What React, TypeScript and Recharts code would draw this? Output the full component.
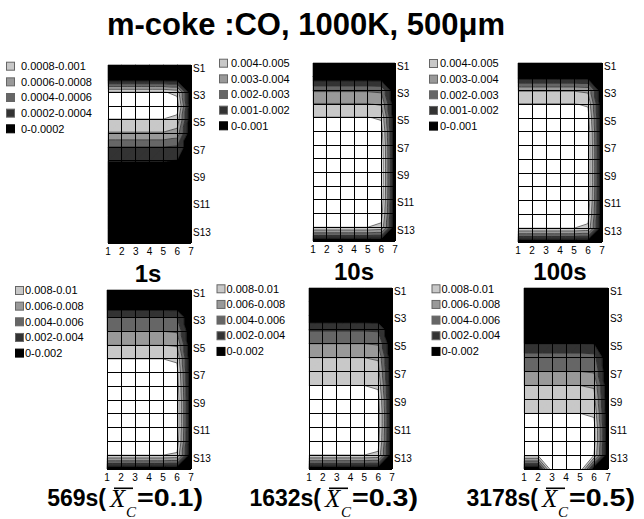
import React from 'react';
import { ScatterChart, Scatter, XAxis, YAxis } from 'recharts';

const columns = [1, 2, 3, 4, 5, 6, 7];
const seriesTicks = [1, 3, 5, 7, 9, 11, 13];

const levels1s = [0, 0.0002, 0.0004, 0.0006, 0.0008, 0.001];
const levels10s = [0, 0.001, 0.002, 0.003, 0.004, 0.005];
const levelsLong = [0, 0.002, 0.004, 0.006, 0.008, 0.01];

// CO concentration, rows S1..S14, columns 1..7
const conc1s = [
  [0, 0, 0, 0, 0, 0, 0],
  [0.00004, 0.00004, 0.00004, 0.00004, 0.00004, 0.00004, 0],
  [0.00102, 0.00102, 0.00102, 0.00102, 0.00102, 0.00095, 0],
  [0.0012, 0.0012, 0.0012, 0.0012, 0.0012, 0.00112, 0],
  [0.00099, 0.00099, 0.00099, 0.00099, 0.00099, 0.00093, 0],
  [0.00078, 0.00078, 0.00078, 0.00078, 0.00078, 0.00072, 0],
  [0.000396, 0.000396, 0.000396, 0.000396, 0.000396, 0.00037, 0],
  [0.000204, 0.000204, 0.000204, 0.000204, 0.000204, 0.00019, 0],
  [0.00003, 0.00003, 0.00003, 0.00003, 0.00003, 0.00003, 0],
  [0.00001, 0.00001, 0.00001, 0.00001, 0.00001, 0.00001, 0],
  [0, 0, 0, 0, 0, 0, 0],
  [0, 0, 0, 0, 0, 0, 0],
  [0, 0, 0, 0, 0, 0, 0],
  [0, 0, 0, 0, 0, 0, 0],
];

const conc10s = [
  [0, 0, 0, 0, 0, 0, 0],
  [0.00015, 0.00015, 0.00015, 0.00015, 0.00015, 0.00014, 0],
  [0.0029, 0.0029, 0.0029, 0.0029, 0.0029, 0.0028, 0],
  [0.00405, 0.00405, 0.00405, 0.00405, 0.00405, 0.0039, 0],
  [0.00505, 0.00505, 0.00505, 0.00505, 0.00505, 0.0049, 0],
  [0.0056, 0.0056, 0.0056, 0.0056, 0.0056, 0.0054, 0],
  [0.0059, 0.0059, 0.0059, 0.0059, 0.0059, 0.0057, 0],
  [0.006, 0.006, 0.006, 0.006, 0.006, 0.0058, 0],
  [0.006, 0.006, 0.006, 0.006, 0.006, 0.0058, 0],
  [0.006, 0.006, 0.006, 0.006, 0.006, 0.0058, 0],
  [0.0059, 0.0059, 0.0059, 0.0059, 0.0059, 0.0057, 0],
  [0.0056, 0.0056, 0.0056, 0.0056, 0.0056, 0.0054, 0],
  [0.005, 0.005, 0.005, 0.005, 0.005, 0.0048, 0],
  [0, 0, 0, 0, 0, 0, 0],
];

const conc100s = [
  [0, 0, 0, 0, 0, 0, 0],
  [0.0003, 0.0003, 0.0003, 0.0003, 0.0003, 0.00029, 0],
  [0.00395, 0.00395, 0.00395, 0.00395, 0.00395, 0.0038, 0],
  [0.00505, 0.00505, 0.00505, 0.00505, 0.00505, 0.0049, 0],
  [0.0056, 0.0056, 0.0056, 0.0056, 0.0056, 0.0054, 0],
  [0.0059, 0.0059, 0.0059, 0.0059, 0.0059, 0.0057, 0],
  [0.006, 0.006, 0.006, 0.006, 0.006, 0.0058, 0],
  [0.006, 0.006, 0.006, 0.006, 0.006, 0.0058, 0],
  [0.006, 0.006, 0.006, 0.006, 0.006, 0.0058, 0],
  [0.006, 0.006, 0.006, 0.006, 0.006, 0.0058, 0],
  [0.0059, 0.0059, 0.0059, 0.0059, 0.0059, 0.0057, 0],
  [0.0056, 0.0056, 0.0056, 0.0056, 0.0056, 0.0054, 0],
  [0.005, 0.005, 0.005, 0.005, 0.005, 0.0048, 0],
  [0, 0, 0, 0, 0, 0, 0],
];

const conc569s = [
  [0, 0, 0, 0, 0, 0, 0],
  [0, 0, 0, 0, 0, 0, 0],
  [0.0041, 0.0041, 0.0041, 0.0041, 0.0041, 0.004, 0],
  [0.006, 0.006, 0.006, 0.006, 0.006, 0.0058, 0],
  [0.008, 0.008, 0.008, 0.008, 0.008, 0.0078, 0],
  [0.01, 0.01, 0.01, 0.01, 0.01, 0.0097, 0],
  [0.011, 0.011, 0.011, 0.011, 0.011, 0.0107, 0],
  [0.0116, 0.0116, 0.0116, 0.0116, 0.0116, 0.0112, 0],
  [0.012, 0.012, 0.012, 0.012, 0.012, 0.0116, 0],
  [0.012, 0.012, 0.012, 0.012, 0.012, 0.0116, 0],
  [0.012, 0.012, 0.012, 0.012, 0.012, 0.0116, 0],
  [0.0116, 0.0116, 0.0116, 0.0116, 0.0116, 0.0112, 0],
  [0.01, 0.01, 0.01, 0.01, 0.01, 0.0097, 0],
  [0, 0, 0, 0, 0, 0, 0],
];

const conc1632s = [
  [0, 0, 0, 0, 0, 0, 0],
  [0, 0, 0, 0, 0, 0, 0],
  [0, 0, 0, 0, 0, 0, 0],
  [0.0038, 0.0038, 0.0038, 0.0038, 0.0038, 0.0037, 0],
  [0.006, 0.006, 0.006, 0.006, 0.006, 0.0058, 0],
  [0.008, 0.008, 0.008, 0.008, 0.008, 0.0078, 0],
  [0.009, 0.009, 0.009, 0.009, 0.009, 0.0087, 0],
  [0.01, 0.01, 0.01, 0.01, 0.01, 0.0097, 0],
  [0.011, 0.011, 0.011, 0.011, 0.011, 0.0107, 0],
  [0.0116, 0.0116, 0.0116, 0.0116, 0.0116, 0.0112, 0],
  [0.0116, 0.0116, 0.0116, 0.0116, 0.0116, 0.0112, 0],
  [0.0112, 0.0112, 0.0112, 0.0112, 0.0112, 0.0108, 0],
  [0.01, 0.01, 0.01, 0.01, 0.01, 0.0097, 0],
  [0, 0, 0, 0, 0, 0, 0],
];

const conc3178s = [
  [0, 0, 0, 0, 0, 0, 0],
  [0, 0, 0, 0, 0, 0, 0],
  [0, 0, 0, 0, 0, 0, 0],
  [0, 0, 0, 0, 0, 0, 0],
  [0.002, 0.002, 0.002, 0.002, 0.002, 0.0019, 0],
  [0.005, 0.005, 0.005, 0.005, 0.005, 0.0048, 0],
  [0.006, 0.006, 0.006, 0.006, 0.006, 0.0058, 0],
  [0.008, 0.008, 0.008, 0.008, 0.008, 0.0078, 0],
  [0.009, 0.009, 0.009, 0.009, 0.009, 0.0087, 0],
  [0.01, 0.01, 0.01, 0.01, 0.01, 0.0097, 0],
  [0.011, 0.011, 0.011, 0.011, 0.011, 0.0107, 0],
  [0.0112, 0.0112, 0.0112, 0.0112, 0.0112, 0.0108, 0],
  [0.0104, 0.0104, 0.0104, 0.0104, 0.0104, 0.01, 0],
  [0, 0, 0.012, 0.012, 0.012, 0, 0],
];

const topLabels = ['1s', '10s', '100s'];
const bottomTimes = ['569s', '1632s', '3178s'];
const bottomConversion = ['0.1', '0.3', '0.5'];

// band fills, lowest band first; anything above the top level stays white
const bandColors = ['#000000', '#333333', '#666666', '#999999', '#c8c8c8', '#ffffff'];

const PAD = 4;
const X_AXIS_H = 18;
const Y_AXIS_W = 28;
const SANS = '"Liberation Sans", Arial, sans-serif';
const SERIF = '"Liberation Serif", "Times New Roman", serif';

type Pt = [number, number, number];

function clipBy(poly: Pt[], level: number, above: boolean): Pt[] {
  const out: Pt[] = [];
  for (let i = 0; i < poly.length; i++) {
    const a = poly[i];
    const b = poly[(i + 1) % poly.length];
    const ina = above ? a[2] >= level : a[2] < level;
    const inb = above ? b[2] >= level : b[2] < level;
    if (ina) out.push(a);
    if (ina !== inb) {
      const t = (level - a[2]) / (b[2] - a[2]);
      out.push([a[0] + t * (b[0] - a[0]), a[1] + t * (b[1] - a[1]), level]);
    }
  }
  return out;
}

// split every cell into two triangles and cut them into the contour bands
function buildField(grid: number[][], levels: number[]) {
  const bounds = levels.slice(1);
  const fills: [number, number][][][] = bandColors.map(() => []);
  const iso: number[][] = [];
  for (let r = 0; r < grid.length - 1; r++) {
    for (let c = 0; c < columns.length - 1; c++) {
      const tl: Pt = [c + 1, r + 1, grid[r][c]];
      const tr: Pt = [c + 2, r + 1, grid[r][c + 1]];
      const bl: Pt = [c + 1, r + 2, grid[r + 1][c]];
      const br: Pt = [c + 2, r + 2, grid[r + 1][c + 1]];
      const corners = [tl, tr, br, bl];
      const mean = (tl[2] + tr[2] + bl[2] + br[2]) / 4;
      let odd = 0;
      corners.forEach((p, i) => {
        if (Math.abs(p[2] - mean) > Math.abs(corners[odd][2] - mean)) odd = i;
      });
      const tris: Pt[][] = odd === 0 || odd === 2
        ? [[tl, tr, bl], [tr, br, bl]]
        : [[tl, tr, br], [tl, br, bl]];
      for (const tri of tris) {
        for (let k = 0; k < bandColors.length; k++) {
          let poly = tri;
          if (k > 0) poly = clipBy(poly, bounds[k - 1], true);
          if (k < bounds.length && poly.length) poly = clipBy(poly, bounds[k], false);
          if (poly.length >= 3) fills[k].push(poly.map((p) => [p[0], p[1]] as [number, number]));
        }
        for (const lv of bounds) {
          const seg: number[] = [];
          for (let i = 0; i < 3; i++) {
            const a = tri[i];
            const b = tri[(i + 1) % 3];
            if ((a[2] >= lv) !== (b[2] >= lv)) {
              const t = (lv - a[2]) / (b[2] - a[2]);
              seg.push(a[0] + t * (b[0] - a[0]), a[1] + t * (b[1] - a[1]));
            }
          }
          if (seg.length === 4) iso.push(seg);
        }
      }
    }
  }
  return { fills, iso };
}

interface Panel {
  grid: number[][];
  levels: number[];
  plot: [number, number, number, number];
  legend: { box: number; text: number; y: number };
}

const panels: Panel[] = [
  { grid: conc1s, levels: levels1s, plot: [108, 65, 83, 178], legend: { box: 6, text: 21, y: 65.7 } },
  { grid: conc10s, levels: levels10s, plot: [313, 63, 82, 178], legend: { box: 219, text: 231, y: 62.7 } },
  { grid: conc100s, levels: levels10s, plot: [518, 63, 84, 179], legend: { box: 429, text: 440, y: 63 } },
  { grid: conc569s, levels: levelsLong, plot: [107, 290, 84, 179], legend: { box: 15, text: 25, y: 290 } },
  { grid: conc1632s, levels: levelsLong, plot: [309, 288, 83, 181], legend: { box: 216.5, text: 226.5, y: 288.3 } },
  { grid: conc3178s, levels: levelsLong, plot: [524, 288, 84, 181], legend: { box: 431.5, text: 441.5, y: 288.3 } },
];

const XTick = (p: any) => (
  <text x={p.x} y={p.y + 12} textAnchor="middle" fontSize={10} fontFamily={SANS} fill="#000">
    {p.payload.value}
  </text>
);

const YTick = (p: any) => (
  <text x={p.x + 2} y={p.y + 6.5} textAnchor="start" fontSize={10} fontFamily={SANS} fill="#000">
    {`S${p.payload.value}`}
  </text>
);

function FieldPanel({ panel }: { panel: Panel }) {
  const [left, top, w, h] = panel.plot;
  const nodes = React.useMemo(
    () => panel.grid.flatMap((row, r) => row.map((v, c) => ({ x: c + 1, y: r + 1, v }))),
    [panel],
  );
  const field = React.useMemo(() => buildField(panel.grid, panel.levels), [panel]);

  const drawField = (lineProps: any) => {
    const pts: { x: number; y: number }[] = lineProps.points || [];
    if (pts.length < nodes.length) return <g />;
    const colPx = columns.map((_, c) => pts[c].x);
    const rowPx = panel.grid.map((_, r) => pts[r * columns.length].y);
    const toX = (x: number) => {
      const i = Math.min(Math.max(Math.floor(x) - 1, 0), colPx.length - 2);
      return colPx[i] + (x - 1 - i) * (colPx[i + 1] - colPx[i]);
    };
    const toY = (y: number) => {
      const i = Math.min(Math.max(Math.floor(y) - 1, 0), rowPx.length - 2);
      return rowPx[i] + (y - 1 - i) * (rowPx[i + 1] - rowPx[i]);
    };
    const f = (n: number) => n.toFixed(2);
    const bandPaths = field.fills.map((polys) =>
      polys.map((poly) => 'M' + poly.map(([x, y]) => `${f(toX(x))},${f(toY(y))}`).join('L') + 'Z').join(''),
    );
    const isoPath = field.iso
      .map(([x1, y1, x2, y2]) => `M${f(toX(x1))},${f(toY(y1))}L${f(toX(x2))},${f(toY(y2))}`)
      .join('');
    const last = rowPx.length - 1;
    const gridPath =
      colPx.map((x) => `M${f(x)},${f(rowPx[0])}V${f(rowPx[last])}`).join('') +
      rowPx.map((y) => `M${f(colPx[0])},${f(y)}H${f(colPx[colPx.length - 1])}`).join('');
    return (
      <g>
        {bandPaths.map((d, k) =>
          d ? <path key={k} d={d} fill={bandColors[k]} stroke={bandColors[k]} strokeWidth={0.6} strokeLinejoin="round" /> : null,
        )}
        <path d={isoPath} fill="none" stroke="#111" strokeWidth={0.6} />
        <path d={gridPath} fill="none" stroke="#000" strokeWidth={1} shapeRendering="crispEdges" />
      </g>
    );
  };

  return (
    <div style={{ position: 'absolute', left: left - PAD, top: top - PAD }}>
      <ScatterChart
        width={PAD + w + Y_AXIS_W + PAD}
        height={PAD + h + X_AXIS_H}
        margin={{ top: PAD, right: PAD, bottom: 0, left: PAD }}
      >
        <XAxis
          type="number"
          dataKey="x"
          domain={[1, 7]}
          ticks={columns}
          interval={0}
          axisLine={false}
          tickLine={false}
          tickSize={0}
          tickMargin={0}
          height={X_AXIS_H}
          tick={XTick}
        />
        <YAxis
          type="number"
          dataKey="y"
          domain={[1, 14]}
          reversed
          orientation="right"
          ticks={seriesTicks}
          interval={0}
          axisLine={false}
          tickLine={false}
          tickSize={0}
          tickMargin={0}
          width={Y_AXIS_W}
          tick={YTick}
        />
        <Scatter data={nodes} isAnimationActive={false} line={drawField} shape={() => <g />} />
      </ScatterChart>
    </div>
  );
}

function Legend({ panel }: { panel: Panel }) {
  const { box, text, y } = panel.legend;
  const rows = [4, 3, 2, 1, 0];
  return (
    <g>
      {rows.map((k, i) => {
        const cy = y + i * 15.65;
        return (
          <g key={k}>
            <rect x={box + 0.5} y={cy - 3.5} width={8} height={8} fill={bandColors[k]} stroke={k === 0 ? '#000' : '#666'} strokeWidth={1} />
            <text x={text} y={cy + 4.2} fontSize={11} fontFamily={SANS} fill="#000">
              {`${panel.levels[k]}-${panel.levels[k + 1]}`}
            </text>
          </g>
        );
      })}
    </g>
  );
}

const topCenters = [148, 354, 560];
// left edge of the X-bar symbol in each lower caption
const barX = [110, 325, 542];

export default function App() {
  return (
    <div style={{ position: 'absolute', left: 0, top: 0, width: 644, height: 519, background: '#fff', overflow: 'hidden' }}>
      <svg width={644} height={519} style={{ position: 'absolute', left: 0, top: 0 }}>
        <text x={306} y={35} textAnchor="middle" fontSize={31} fontWeight="bold" fontFamily={SANS} fill="#000">
          m-coke :CO, 1000K, 500μm
        </text>
        {topLabels.map((t, i) => (
          <text key={t} x={topCenters[i]} y={i === 0 ? 282 : 280} textAnchor="middle" fontSize={24} fontWeight="bold" fontFamily={SANS} fill="#000">
            {t}
          </text>
        ))}
        {bottomTimes.map((t, i) => {
          const bx = barX[i];
          return (
            <g key={t}>
              <text x={bx - 4} y={506} textAnchor="end" fontSize={23} fontWeight="bold" fontFamily={SANS} fill="#000">
                {`${t}(`}
              </text>
              <text x={bx} y={507} fontSize={25} fontStyle="italic" fontFamily={SERIF} fill="#000">
                X
              </text>
              <rect x={bx + 4} y={487.5} width={19} height={1.6} fill="#000" />
              <text x={bx + 16} y={517} fontSize={15} fontStyle="italic" fontFamily={SERIF} fill="#000">
                C
              </text>
              <text x={bx + 27} y={506} fontSize={24} fontWeight="bold" fontFamily={SANS} fill="#000" textLength={66} lengthAdjust="spacingAndGlyphs">
                {`=${bottomConversion[i]})`}
              </text>
            </g>
          );
        })}
        {panels.map((p, i) => (
          <Legend key={i} panel={p} />
        ))}
      </svg>
      {panels.map((p, i) => (
        <FieldPanel key={i} panel={p} />
      ))}
    </div>
  );
}
